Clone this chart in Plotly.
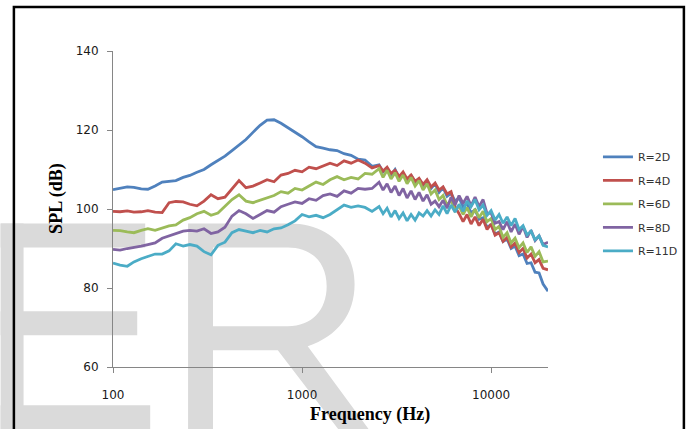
import math
import plotly.graph_objects as go

# ---------------- data ----------------
freq_hz = [100, 109, 119, 129, 141, 153, 167, 182, 198, 215,
           235, 255, 278, 303, 330, 359, 391, 426, 464, 505,
           550, 600, 653, 711, 774, 843, 918, 1000, 1089, 1186,
           1292, 1406, 1532, 1668, 1817, 1979, 2154, 2346, 2555,
           2683, 2817, 2957, 3105, 3260, 3423, 3594, 3773, 3962, 4159,
           4367, 4585, 4814, 5054, 5306, 5571, 5849, 6141, 6448, 6770,
           7108, 7463, 7835, 8226, 8637, 9068, 9520, 10000, 10500, 11020,
           11570, 12150, 12760, 13390, 14060, 14760, 15500, 16270, 17090, 17940,
           18840, 20000]

spl_2d = [104.9, 105.3, 105.6, 105.5, 105.1, 105.0, 105.8, 106.8, 107.0, 107.2,
          108.0, 108.5, 109.3, 110.0, 111.2, 112.3, 113.4, 114.8, 116.2, 117.6,
          119.4, 121.2, 122.5, 122.6, 121.7, 120.6, 119.4, 118.3, 117.0, 115.8,
          115.4, 115.0, 114.8, 114.0, 113.6, 112.6, 112.4, 110.8, 111.2,
          109.4, 110.4, 108.6, 110.0, 108.0, 109.0, 107.0, 108.6, 106.6, 107.6,
          106.0, 107.2, 105.2, 106.4, 104.2, 105.4, 103.2, 104.0, 102.0, 102.8,
          100.6, 101.4, 99.0, 99.8, 97.4, 97.8, 95.4, 96.0, 93.6, 94.2,
          91.8, 92.4, 90.0, 90.6, 88.2, 88.6, 86.2, 86.4, 84.0, 83.8,
          81.0, 79.2]

spl_4d = [99.4, 99.3, 99.5, 99.2, 99.3, 99.6, 99.2, 99.1, 101.6, 101.9,
          101.8, 101.2, 100.8, 102.0, 103.6, 102.6, 103.0, 105.0, 107.2, 105.4,
          105.8, 106.6, 107.4, 106.9, 108.6, 109.0, 109.8, 109.4, 110.6, 110.2,
          111.0, 111.6, 111.0, 112.2, 111.6, 112.4, 111.6, 110.4, 111.0,
          109.6, 110.6, 109.0, 109.8, 108.2, 109.4, 107.6, 108.6, 107.0, 107.8,
          106.2, 107.4, 105.6, 106.6, 104.8, 105.6, 103.8, 104.4, 100.6, 98.8,
          96.8, 98.6, 96.2, 98.0, 95.8, 97.4, 94.8, 96.2, 93.4, 94.0,
          91.8, 92.8, 90.4, 91.4, 89.0, 90.0, 87.6, 88.6, 86.4, 87.2,
          85.0, 84.6]

spl_6d = [94.6, 94.5, 94.2, 94.0, 94.6, 95.0, 94.6, 95.2, 95.7, 96.0,
          97.2, 97.8, 98.8, 99.4, 98.4, 99.0, 100.8, 102.4, 103.6, 102.0,
          101.6, 102.2, 102.8, 103.4, 104.4, 104.0, 105.2, 104.8, 105.8, 106.8,
          106.2, 107.4, 108.2, 107.4, 108.0, 107.6, 109.0, 108.8, 110.2,
          108.0, 109.8, 107.6, 109.2, 107.0, 108.6, 106.4, 108.0, 105.8, 107.2,
          104.8, 106.4, 103.8, 104.8, 102.4, 103.4, 101.0, 102.2, 99.6, 100.8,
          98.6, 100.4, 98.0, 100.0, 97.8, 99.4, 96.8, 97.6, 94.8, 95.6,
          92.8, 94.0, 91.4, 92.6, 90.2, 91.4, 89.0, 90.4, 88.0, 89.2,
          86.6, 86.8]

spl_8d = [89.8, 89.6, 90.0, 90.2, 90.6, 91.0, 91.4, 92.6, 93.2, 93.8,
          94.4, 94.6, 94.4, 95.0, 93.8, 94.2, 95.4, 98.2, 99.6, 98.8,
          97.6, 98.6, 99.6, 99.2, 100.6, 101.2, 101.8, 101.4, 102.6, 102.2,
          103.4, 103.8, 103.2, 104.6, 104.0, 105.2, 105.0, 105.2, 106.8,
          104.8, 106.4, 104.2, 105.8, 103.4, 105.2, 102.8, 104.6, 102.4, 104.2,
          102.0, 103.6, 101.2, 102.0, 100.6, 102.2, 100.2, 103.0, 101.0, 103.4,
          101.4, 103.2, 100.8, 103.0, 100.6, 102.4, 98.8, 99.0, 96.4, 96.8,
          94.8, 96.8, 94.2, 96.2, 93.6, 95.6, 92.8, 94.6, 92.0, 93.2,
          91.0, 91.6]

spl_11d = [86.3, 85.8, 85.5, 86.6, 87.4, 88.0, 88.6, 88.6, 89.4, 91.2,
           90.6, 91.0, 90.6, 89.2, 88.4, 90.8, 91.6, 94.0, 94.8, 94.4,
           94.0, 94.6, 94.2, 95.0, 95.2, 96.0, 97.0, 98.6, 98.0, 98.4,
           97.8, 98.6, 99.8, 101.0, 100.4, 100.8, 100.4, 99.4, 100.6,
           98.8, 100.2, 98.0, 99.6, 97.6, 99.0, 97.0, 98.6, 97.2, 99.0,
           98.2, 99.6, 98.2, 99.8, 98.6, 100.8, 98.8, 101.0, 99.2, 101.2,
           99.4, 102.0, 100.6, 102.4, 99.8, 101.0, 98.4, 99.6, 97.2, 98.6,
           96.4, 98.0, 95.8, 97.6, 94.8, 95.8, 93.4, 94.4, 92.2, 93.2,
           90.8, 90.4]

series_names = ["R=2D", "R=4D", "R=6D", "R=8D", "R=11D"]
series_colors = ["#4F81BD", "#C0504D", "#9BBB59", "#8064A2", "#4BACC6"]
series_values = [spl_2d, spl_4d, spl_6d, spl_8d, spl_11d]

x_ticks = [100, 1000, 10000]
y_ticks = [60, 80, 100, 120, 140]

# ---------------- layout geometry (pixels) ----------------
W, H = 694, 429
ML, MR, MT, MB = 112.7, 145.0, 50.5, 62.3
PW = W - ML - MR
PH = H - MT - MB


def px(x):
    return (x - ML) / PW


def py(y):
    return (H - MB - y) / PH


def path(cmds):
    out = []
    for c in cmds:
        if isinstance(c, str):
            out.append(c)
        else:
            out.append(f"{px(c[0]):.5f},{py(c[1]):.5f}")
    return " ".join(out)


fig = go.Figure()
for name, color, vals in zip(series_names, series_colors, series_values):
    fig.add_trace(go.Scatter(
        x=freq_hz, y=vals, mode="lines", name=name,
        legendgroup=name,
        line=dict(color=color, width=2.8),
    ))

WM = "#dadada"
shapes = []
# watermark "E"
for (x0, x1, y0, y1) in [(0, 23, 223, 445), (0, 145, 223, 247),
                         (0, 137, 311, 335), (0, 150, 405, 445)]:
    shapes.append(dict(type="rect", xref="paper", yref="paper",
                       x0=px(x0), x1=px(x1), y0=py(y1), y1=py(y0),
                       fillcolor=WM, line=dict(width=0), layer="below"))
# watermark "R"
r_path = path(["M", (188, 223), "L", (290, 223),
               "C", (328, 223), (355, 248), (355, 284),
               "C", (355, 314), (338, 336), (308, 346),
               "L", (381, 445), "L", (351, 445), "L", (278, 350),
               "L", (213, 350), "L", (213, 445), "L", (188, 445), "Z",
               "M", (213, 247), "L", (213, 326), "L", (288, 326),
               "C", (312, 326), (327, 310), (327, 286),
               "C", (327, 262), (312, 247), (288, 247), "Z"])
shapes.append(dict(type="path", xref="paper", yref="paper", path=r_path,
                   fillcolor=WM, line=dict(width=0), layer="below"))
# outer frame
shapes.append(dict(type="rect", xref="paper", yref="paper",
                   x0=px(13.3), x1=px(685.3), y0=py(450), y1=py(6.5),
                   line=dict(color="black", width=2.5),
                   fillcolor="rgba(0,0,0,0)", layer="above"))

tick_font = dict(family="DejaVu Sans", size=12, color="#1a1a1a")
axis_col = "#868686"

fig.update_layout(
    width=W, height=H,
    margin=dict(l=ML, r=MR, t=MT, b=MB, pad=0),
    paper_bgcolor="white", plot_bgcolor="rgba(0,0,0,0)",
    showlegend=True,
    legend=dict(x=px(598), y=py(142), xanchor="left", yanchor="top",
                font=dict(family="DejaVu Sans", size=11, color="#333333"),
                bgcolor="rgba(0,0,0,0)", tracegroupgap=4.5),
    shapes=shapes,
    xaxis=dict(type="log", range=[2, math.log10(20000)],
               tickvals=x_ticks, ticktext=[str(v) for v in x_ticks],
               showline=True, linecolor=axis_col, linewidth=1,
               ticks="outside", ticklen=5, tickcolor=axis_col,
               showgrid=False, zeroline=False, tickfont=tick_font,
               ticklabelstandoff=12),
    yaxis=dict(range=[60, 140], tickvals=y_ticks,
               showline=True, linecolor=axis_col, linewidth=1,
               ticks="outside", ticklen=5, tickcolor=axis_col,
               showgrid=False, zeroline=False, tickfont=tick_font,
               ticklabelstandoff=6),
    annotations=[
        dict(text="<b>Frequency (Hz)</b>", xref="paper", yref="paper",
             x=px(370), y=py(414), xanchor="center", yanchor="middle",
             showarrow=False,
             font=dict(family="Liberation Serif", size=18, color="black")),
        dict(text="<b>SPL (dB)</b>", xref="paper", yref="paper",
             x=px(56), y=py(198), xanchor="center", yanchor="middle",
             textangle=-90, showarrow=False,
             font=dict(family="Liberation Serif", size=18, color="black")),
    ],
)

fig.write_html("out.html")
